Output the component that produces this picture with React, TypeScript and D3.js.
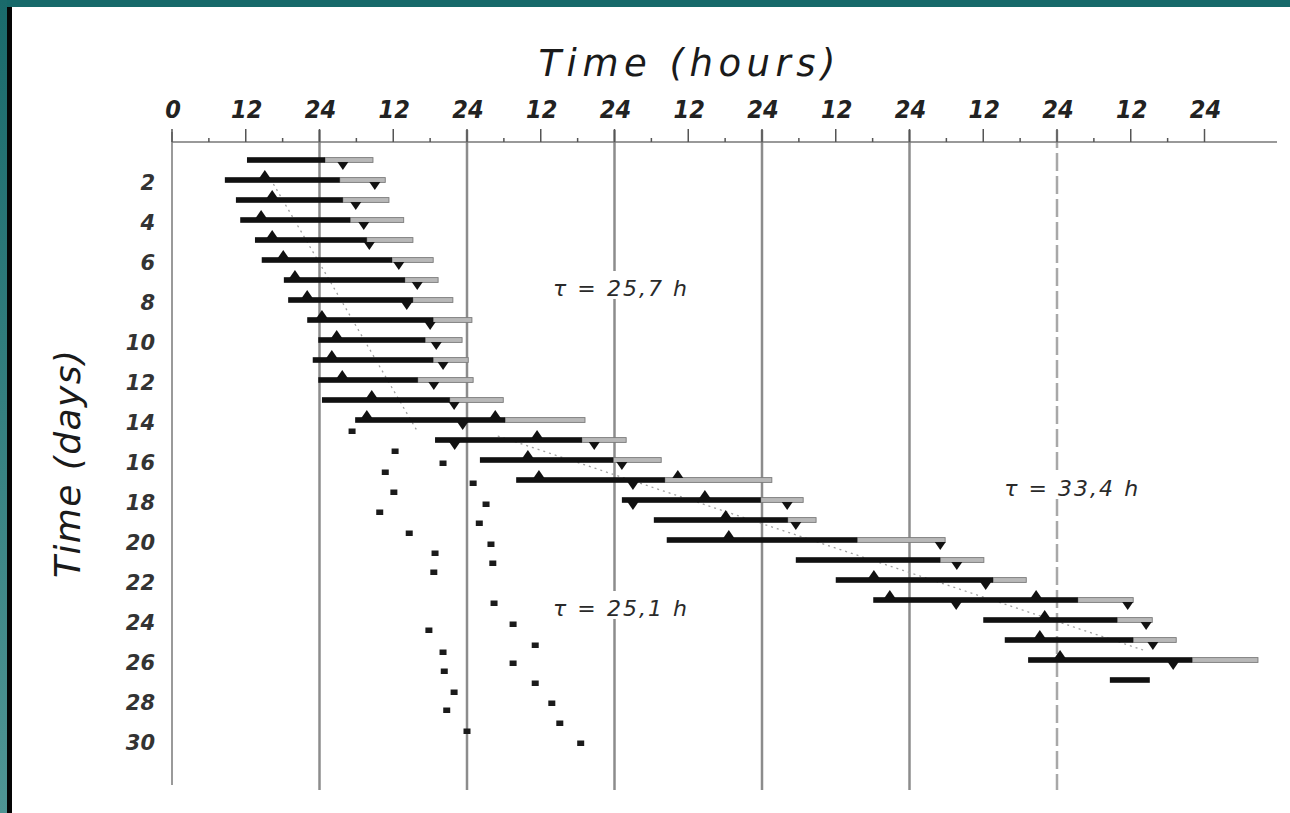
import React from 'react';
import * as d3 from 'd3';

// activity bars per day: onset, end of dark part, end of light part (hours)
const barDays = [1, 2, 3, 4, 5, 6, 7, 8, 9, 10, 11, 12, 13, 14, 15, 16, 17, 18, 19, 20, 21, 22, 23, 24, 25, 26, 27];
const barStart = [12.2, 8.6, 10.4, 11.1, 13.5, 14.6, 18.2, 18.9, 22.0, 23.8, 22.9, 23.8, 24.4, 29.8, 42.8, 50.1, 56.0, 73.2, 78.4, 80.5, 101.5, 108.0, 114.1, 132.0, 135.5, 139.3, 152.6];
const barDarkEnd = [24.9, 27.3, 27.8, 29.0, 31.7, 35.8, 37.9, 39.2, 42.5, 41.2, 42.5, 40.0, 45.2, 54.2, 66.7, 71.8, 80.2, 95.8, 100.2, 111.5, 125.0, 133.6, 147.4, 153.8, 156.4, 166.0, 159.1];
const barLightEnd = [32.7, 34.7, 35.3, 37.7, 39.2, 42.5, 43.3, 45.7, 48.8, 47.2, 48.2, 49.0, 53.9, 67.2, 73.9, 79.6, 97.6, 102.7, 104.8, 125.8, 132.1, 139.0, 156.4, 159.5, 163.4, 176.7, 159.1];

// [day, hour]
const upMarks = [[2, 15.1], [3, 16.3], [4, 14.5], [5, 16.3], [6, 18.1], [7, 20.0], [8, 22.0], [9, 24.4], [10, 26.8], [11, 26.0], [12, 27.7], [13, 32.5], [14, 31.7], [14, 52.6], [15, 59.4], [16, 57.9], [17, 59.7], [17, 82.3], [18, 86.7], [19, 90.1], [20, 90.6], [22, 114.2], [23, 116.8], [23, 140.6], [24, 142.0], [25, 141.2], [26, 144.5]];
const downMarks = [[1, 27.8], [2, 33.0], [3, 29.9], [4, 31.2], [5, 32.1], [6, 36.9], [7, 39.9], [8, 38.2], [9, 42.0], [10, 43.0], [11, 44.1], [12, 42.6], [13, 45.9], [14, 47.3], [15, 46.0], [15, 68.7], [16, 73.2], [17, 75.0], [18, 75.0], [18, 100.1], [19, 101.5], [20, 125.0], [21, 127.7], [22, 132.4], [23, 127.6], [23, 155.5], [24, 158.5], [25, 159.6], [26, 162.9]];

const dotsA = [[14.55, 29.3], [15.55, 36.3], [16.15, 44.1], [16.6, 34.7], [17.6, 36.1], [18.6, 33.8], [19.65, 38.6], [20.65, 42.8], [21.6, 42.6], [24.5, 41.8], [25.6, 44.1], [26.55, 44.3], [27.6, 45.9], [28.5, 44.7], [29.55, 48.0]];
const dotsB = [[17.15, 49.0], [18.2, 51.1], [19.15, 50.0], [20.2, 51.9], [21.15, 52.2], [23.15, 52.4], [24.2, 55.5], [25.25, 59.1], [26.15, 55.5], [27.15, 59.1], [28.15, 61.8], [29.15, 63.1], [30.15, 66.5]];

// faint fitted lines [day, hour] start/end
const fitLines = [
  [[2.2, 16.5], [14.5, 39.8]],
  [[14.8, 53], [25.5, 158]],
];

const tauLabels = [
  { text: 'τ = 25,7 h', day: 7.4, hour: 72.9 },
  { text: 'τ = 33,4 h', day: 17.4, hour: 146.3 },
  { text: 'τ = 25,1 h', day: 23.4, hour: 72.9 },
];

const hourTicks = d3.range(0, 169, 6);
const gridHours = [24, 48, 72, 96, 120, 144];
const dayTicks = d3.range(2, 31, 2);

const W = 1290;
const H = 813;

export default function App() {
  const x = d3.scaleLinear().domain([0, 144]).range([172, 1057]);
  const y = d3.scaleLinear().domain([0, 30]).range([140, 740]);
  const axisY = 142;
  const gridBottom = 790;
  const tick = (h: number) => (h === 0 ? '0' : h % 24 === 0 ? '24' : h % 12 === 0 ? '12' : '');

  const tri = (hx: number, dy: number, up: boolean) => {
    const cx = x(hx);
    const cy = y(dy);
    return up
      ? `${cx - 5.5},${cy - 2} ${cx + 5.5},${cy - 2} ${cx},${cy - 10}`
      : `${cx - 5.5},${cy + 2} ${cx + 5.5},${cy + 2} ${cx},${cy + 10}`;
  };

  return (
    <div style={{ position: 'absolute', left: 0, top: 0 }}>
      <svg width={W} height={H} style={{ display: 'block', background: '#fff' }}>
        <defs>
          <linearGradient id="side" x1="0" y1="0" x2="0" y2="1">
            <stop offset="0" stopColor="#1a6a6b" />
            <stop offset="1" stopColor="#4f9594" />
          </linearGradient>
        </defs>
        <rect x={0} y={0} width={W} height={H} fill="#fff" />
        <rect x={0} y={0} width={W} height={7} fill="#17696a" />
        <rect x={0} y={0} width={7} height={H} fill="url(#side)" />
        <rect x={7} y={7} width={5} height={H - 7} fill="#050505" />

        {/* titles */}
        <text x={687} y={76} textAnchor="middle" textLength={297} lengthAdjust="spacing"
          fontFamily="DejaVu Sans" fontStyle="italic" fontSize={37} fill="#1a1a1a">Time (hours)</text>
        <text transform="translate(80,464) rotate(-90)" textAnchor="middle" textLength={228} lengthAdjust="spacing"
          fontFamily="DejaVu Sans" fontStyle="italic" fontSize={36} fill="#1a1a1a">Time (days)</text>

        {/* grid */}
        {gridHours.map(h => (
          <line key={'g' + h} x1={x(h)} x2={x(h)} y1={axisY - 12} y2={gridBottom}
            stroke={h === 144 ? '#a8a8a8' : '#8c8c8c'} strokeWidth={2.5}
            strokeDasharray={h === 144 ? '18,5' : undefined} />
        ))}
        <line x1={x(0)} x2={x(0)} y1={axisY - 10} y2={785} stroke="#9a9a9a" strokeWidth={2} />

        {/* hour axis */}
        <line x1={x(0)} x2={1277} y1={axisY} y2={axisY} stroke="#777" strokeWidth={1.6} />
        {hourTicks.map(h => (
          <line key={'t' + h} x1={x(h)} x2={x(h)} y1={axisY - (h % 12 === 0 ? 13 : 4)} y2={axisY}
            stroke="#555" strokeWidth={1.5} />
        ))}
        {hourTicks.filter(h => tick(h)).map(h => (
          <text key={'l' + h} x={x(h) + 1} y={118} textAnchor="middle"
            fontFamily="'Liberation Sans Narrow', 'DejaVu Sans Condensed', sans-serif"
            fontStyle="italic" fontWeight="bold" fontSize={25} fill="#222">{tick(h)}</text>
        ))}

        {/* day axis labels */}
        {dayTicks.map(d => (
          <text key={'d' + d} x={155} y={y(d) + 10} textAnchor="end"
            fontFamily="DejaVu Sans" fontStyle="italic" fontWeight="bold" fontSize={21} fill="#333">{d}</text>
        ))}

        {/* fitted lines */}
        {fitLines.map((l, i) => (
          <line key={'f' + i} x1={x(l[0][1])} y1={y(l[0][0])} x2={x(l[1][1])} y2={y(l[1][0])}
            stroke="#a0a0a0" strokeWidth={1.3} strokeDasharray="2,4" />
        ))}

        {/* tau labels */}
        {tauLabels.map(t => (
          <g key={t.text}>
            <rect x={x(t.hour) - 72} y={y(t.day) - 17} width={144} height={28} fill="#fff" />
            <text x={x(t.hour)} y={y(t.day) + 8} textAnchor="middle" textLength={134} lengthAdjust="spacing"
              fontFamily="DejaVu Sans" fontStyle="italic" fontSize={22} fill="#2a2a2a">{t.text}</text>
          </g>
        ))}

        {/* activity bars */}
        {barDays.map((d, i) => (
          <g key={'b' + d}>
            {barLightEnd[i] > barDarkEnd[i] && (
              <rect x={x(barDarkEnd[i])} y={y(d) - 2.4} width={x(barLightEnd[i]) - x(barDarkEnd[i])} height={4.8}
                fill="#b8b8b8" stroke="#7a7a7a" strokeWidth={0.9} />
            )}
            <rect x={x(barStart[i])} y={y(d) - 2.8} width={x(barDarkEnd[i]) - x(barStart[i])} height={5.6} fill="#111" />
          </g>
        ))}

        {upMarks.map((m, i) => <polygon key={'u' + i} points={tri(m[1], m[0], true)} fill="#111" />)}
        {downMarks.map((m, i) => <polygon key={'w' + i} points={tri(m[1], m[0], false)} fill="#111" />)}

        {[...dotsA, ...dotsB].map((p, i) => (
          <rect key={'p' + i} x={x(p[1]) - 3.5} y={y(p[0]) - 2.5} width={7} height={5.5} fill="#1a1a1a" />
        ))}
      </svg>
    </div>
  );
}
